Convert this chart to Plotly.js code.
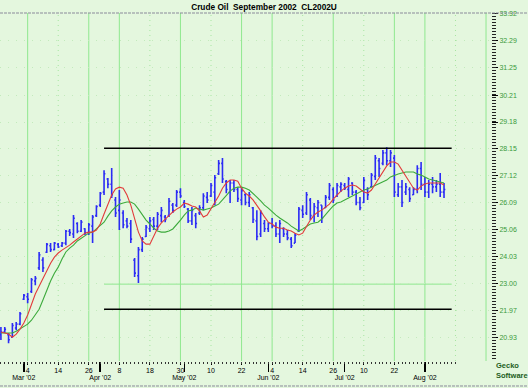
<!DOCTYPE html>
<html>
<head>
<meta charset="utf-8">
<script src="https://cdn.plot.ly/plotly-3.0.1.min.js"></script>
<style>html,body{margin:0;padding:0;background:#e4f7de;}#chart{width:528px;height:388px;}</style>
</head>
<body>
<div id="chart"></div>
<script>
// ---- Data ----
const dates = [
 '2002-02-21','2002-02-22','2002-02-25','2002-02-26','2002-02-27','2002-02-28',
 '2002-03-01','2002-03-04','2002-03-05','2002-03-06','2002-03-07','2002-03-08','2002-03-11','2002-03-12','2002-03-13','2002-03-14',
 '2002-03-15','2002-03-18','2002-03-19','2002-03-20','2002-03-21','2002-03-22','2002-03-25','2002-03-26','2002-03-27','2002-03-28',
 '2002-04-01','2002-04-02','2002-04-03','2002-04-04','2002-04-05','2002-04-08','2002-04-09','2002-04-10','2002-04-11','2002-04-12',
 '2002-04-15','2002-04-16','2002-04-17','2002-04-18','2002-04-19','2002-04-22','2002-04-23','2002-04-24','2002-04-25','2002-04-26',
 '2002-04-29','2002-04-30',
 '2002-05-01','2002-05-02','2002-05-03','2002-05-06','2002-05-07','2002-05-08','2002-05-09','2002-05-10','2002-05-13','2002-05-14',
 '2002-05-15','2002-05-16','2002-05-17','2002-05-20','2002-05-21','2002-05-22','2002-05-23','2002-05-24','2002-05-28','2002-05-29',
 '2002-05-30','2002-05-31',
 '2002-06-03','2002-06-04','2002-06-05','2002-06-06','2002-06-07','2002-06-10','2002-06-11','2002-06-12','2002-06-13','2002-06-14',
 '2002-06-17','2002-06-18','2002-06-19','2002-06-20','2002-06-21','2002-06-24','2002-06-25','2002-06-26','2002-06-27','2002-06-28',
 '2002-07-01','2002-07-02','2002-07-03','2002-07-08','2002-07-09','2002-07-10','2002-07-11','2002-07-12','2002-07-15','2002-07-16',
 '2002-07-17','2002-07-18','2002-07-19','2002-07-22','2002-07-23','2002-07-24','2002-07-25','2002-07-26','2002-07-29','2002-07-30',
 '2002-07-31',
 '2002-08-01','2002-08-02','2002-08-05','2002-08-06','2002-08-07','2002-08-08'
];
const openPrices = [
 21.05,21.15,21.05,20.95,21.30,21.45,22.40,22.50,22.70,23.10,
 23.60,23.90,24.20,24.45,24.30,24.50,24.45,24.55,25.00,24.90,
 25.30,25.00,25.10,24.95,25.20,25.60,26.00,26.50,27.00,26.80,
 26.20,25.80,25.70,25.40,25.30,23.90,23.30,24.30,24.80,25.10,
 25.45,25.20,25.60,25.55,25.60,26.00,26.00,26.50,26.10,25.85,
 25.40,25.60,25.70,25.90,26.30,26.35,26.50,27.20,27.60,26.90,
 26.50,26.85,26.60,26.20,26.40,26.10,25.90,25.40,24.90,25.30,
 25.10,25.30,25.20,24.90,25.10,24.90,24.70,24.55,25.00,25.80,
 25.70,26.20,25.60,25.90,26.00,25.90,26.30,26.60,26.35,26.70,
 26.75,26.60,26.85,26.50,26.10,26.10,26.60,26.70,27.10,27.70,
 27.60,28.00,27.70,27.80,26.40,26.70,26.50,26.60,26.40,26.60,
 27.40,26.80,26.50,26.80,26.70,26.80,26.50
];
const highPrices = [
 21.34,21.34,21.11,21.49,21.53,21.91,22.60,22.64,23.21,23.29,
 24.21,24.01,24.55,24.55,24.59,24.55,24.59,25.05,25.09,25.62,
 25.35,25.43,25.12,25.32,25.62,26.00,26.50,27.34,27.04,27.42,
 26.31,26.58,25.81,25.51,25.43,23.98,24.40,24.78,25.24,25.55,
 25.55,25.74,25.93,25.62,26.27,26.08,26.58,26.65,26.20,25.89,
 25.93,25.70,26.00,26.46,26.50,26.85,27.15,27.73,27.80,26.96,
 26.96,26.96,26.69,26.69,26.46,26.50,25.93,25.81,25.81,25.43,
 25.35,25.51,25.35,25.43,25.16,25.05,24.78,24.93,25.93,26.00,
 26.50,26.27,26.08,26.20,26.00,26.39,26.85,26.69,26.85,26.88,
 26.85,27.08,26.88,26.58,26.31,27.08,26.69,27.23,27.92,27.80,
 28.11,28.22,28.11,27.92,26.85,26.96,26.85,26.69,26.69,27.53,
 27.65,27.08,26.96,27.08,26.96,27.23,26.85
];
const lowPrices = [
 20.84,21.11,20.72,20.95,21.22,21.41,22.37,22.25,22.64,22.94,
 23.52,23.44,24.17,24.21,24.28,24.36,24.40,24.47,24.82,24.74,
 24.93,24.97,24.86,24.86,24.55,25.55,25.93,26.39,26.65,26.27,
 25.55,25.05,25.12,25.12,24.55,23.25,23.02,24.21,24.78,24.97,
 25.05,25.05,25.35,25.35,25.55,25.70,25.93,26.27,25.89,25.32,
 25.24,25.12,25.62,25.81,26.08,26.31,26.00,27.15,26.85,26.46,
 26.08,26.50,26.12,26.00,26.00,25.93,25.32,24.66,24.78,24.97,
 24.97,25.12,24.78,24.55,24.78,24.66,24.36,24.55,24.97,25.51,
 25.62,25.43,25.35,25.55,25.32,25.89,26.20,26.08,26.31,26.50,
 26.58,26.31,26.39,26.00,25.81,26.08,26.20,26.69,26.96,27.08,
 27.53,27.53,27.46,26.31,26.31,25.93,26.39,26.12,26.39,26.46,
 26.58,26.31,26.27,26.46,26.50,26.31,26.27
];
const closePrices = [
 21.15,21.25,20.85,21.40,21.45,21.85,22.55,22.40,23.15,23.20,
 24.10,23.60,24.50,24.30,24.55,24.40,24.55,25.00,24.95,25.50,
 25.00,25.35,24.95,25.25,25.55,25.95,26.45,27.20,26.80,26.40,
 25.70,26.20,25.25,25.20,24.70,23.40,24.30,24.70,25.15,25.40,
 25.20,25.65,25.80,25.45,26.15,25.80,26.50,26.35,25.95,25.40,
 25.80,25.30,25.90,26.35,26.20,26.75,27.05,27.60,27.00,26.60,
 26.85,26.60,26.25,26.55,26.10,26.40,25.45,24.80,25.70,25.10,
 25.30,25.20,24.90,25.30,24.90,24.75,24.45,24.85,25.85,25.65,
 26.40,25.60,25.95,26.10,25.50,26.30,26.75,26.20,26.75,26.80,
 26.65,27.00,26.50,26.10,25.90,26.95,26.40,27.15,27.80,27.40,
 28.00,27.70,28.00,26.50,26.70,26.10,26.70,26.25,26.60,27.40,
 26.80,26.50,26.80,26.70,26.80,26.50,26.60
];
// fast (red) and slow (green) moving-average lines
const fastAverage = [
 21.15,21.11,21.07,20.95,21.07,21.26,21.49,21.80,22.22,22.60,
 22.90,23.21,23.52,23.78,24.01,24.17,24.28,24.36,24.47,24.59,
 24.70,24.82,24.93,24.97,24.97,25.05,25.28,25.66,26.00,26.39,
 26.62,26.69,26.65,26.39,26.00,25.43,24.97,24.63,24.51,24.51,
 24.82,25.12,25.32,25.47,25.58,25.74,25.85,25.93,26.08,26.04,
 25.97,25.93,25.78,25.55,25.62,25.85,26.08,26.35,26.65,26.85,
 26.96,26.96,26.92,26.65,26.46,26.35,26.20,26.00,25.78,25.55,
 25.35,25.28,25.16,25.12,25.12,25.05,25.01,24.93,24.86,24.93,
 25.20,25.43,25.62,25.74,25.81,25.93,26.04,26.23,26.39,26.54,
 26.65,26.73,26.77,26.73,26.62,26.50,26.46,26.58,26.81,27.04,
 27.27,27.50,27.65,27.65,27.57,27.34,27.11,26.85,26.65,26.58,
 26.73,26.81,26.85,26.85,26.85,26.85,26.77
];
const slowAverage = [
 21.11,21.11,21.11,21.11,21.18,21.26,21.34,21.45,21.60,21.80,
 22.02,22.37,22.75,23.10,23.40,23.63,23.94,24.21,24.36,24.47,
 24.63,24.74,24.82,24.93,24.97,25.09,25.20,25.35,25.58,25.78,
 25.93,26.04,26.08,26.12,26.12,26.04,25.85,25.62,25.43,25.28,
 25.12,25.01,24.97,24.97,25.01,25.09,25.24,25.43,25.62,25.78,
 25.81,25.89,25.85,25.81,25.85,25.89,25.97,26.04,26.20,26.39,
 26.54,26.65,26.69,26.69,26.65,26.58,26.46,26.31,26.16,26.00,
 25.89,25.74,25.62,25.51,25.43,25.32,25.20,25.09,25.01,25.09,
 25.20,25.28,25.32,25.35,25.47,25.62,25.81,25.97,26.08,26.12,
 26.20,26.27,26.35,26.42,26.50,26.58,26.62,26.69,26.73,26.81,
 26.88,26.96,27.08,27.15,27.19,27.23,27.27,27.27,27.27,27.19,
 27.15,27.08,27.00,26.96,26.92,26.88,26.85
];
// tick labels
const dayTickDates = ['2002-03-04','2002-03-14','2002-03-26','2002-04-08','2002-04-18','2002-04-30','2002-05-10','2002-05-22','2002-06-04','2002-06-14','2002-06-26','2002-07-10','2002-07-22'];
const dayTickLabels = ['4','14','26','8','18','30','10','22','4','14','26','10','22'];
const extraDayTicks = ['2002-08-09','2002-08-12','2002-08-13'];
const monthTickDates = ['2002-03-01','2002-04-01','2002-05-01','2002-06-03','2002-07-01','2002-08-01'];
const monthTickLabels = ["Mar '02","Apr '02","May '02","Jun '02","Jul '02","Aug '02"];
const priceTicks = [20.93,21.97,23.00,24.03,25.06,26.09,27.12,28.15,29.18,30.21,31.25,32.29,33.32];
const priceMinorStep = 0.11475;
const holidays = ['2002-03-29','2002-05-27','2002-07-04','2002-07-05'];
// vertical cycle/grid lines
const gridDates = ['2002-03-04','2002-03-14','2002-03-26','2002-04-08','2002-04-18','2002-04-30','2002-05-10','2002-05-22','2002-06-04','2002-06-14','2002-06-26','2002-07-10','2002-07-22','2002-08-01','2002-08-13','2002-08-23'];
const gridStyles = ['solid','dot','solid','solid','dot','solid','dot','solid','solid','dot','solid','dot','solid','solid','dot','solid'];
// channel drawn on the chart
const channelDates = ['2002-04-02','2002-08-12'];
const channelTop = 28.18;
const channelBottom = 22.02;
const supportLevel = 22.98;

// ---- Styling / layout ----
const BG = '#e4f7de';
const FONT = 'Liberation Sans, Arial, sans-serif';
const xRange = ['2002-02-20 18:14', '2002-08-26 07:12'];
const yRange = [20.04, 33.35];
const breaks = [{bounds: ['sat', 'mon']}, {values: holidays}];

const traces = [
  {
    type: 'ohlc', x: dates, open: openPrices, high: highPrices, low: lowPrices, close: closePrices,
    increasing: {line: {color: '#2b2bf5', width: 1.6}},
    decreasing: {line: {color: '#2b2bf5', width: 1.6}},
    tickwidth: 0.35, hoverinfo: 'skip', showlegend: false
  },
  {type: 'scatter', mode: 'lines', x: dates, y: slowAverage, line: {color: '#3caa3c', width: 1.1}, hoverinfo: 'skip', showlegend: false},
  {type: 'scatter', mode: 'lines', x: dates, y: fastAverage, line: {color: '#e23b3b', width: 1.1}, hoverinfo: 'skip', showlegend: false},
  {type: 'scatter', mode: 'markers', x: [monthTickDates[0]], y: [null], xaxis: 'x2', hoverinfo: 'skip', showlegend: false},
  {type: 'scatter', mode: 'markers', x: [monthTickDates[0]], y: [null], xaxis: 'x3', hoverinfo: 'skip', showlegend: false},
  {type: 'scatter', mode: 'markers', x: [monthTickDates[0]], y: [null], yaxis: 'y2', hoverinfo: 'skip', showlegend: false}
];

const shapes = gridDates.map((d, i) => ({
  type: 'line', xref: 'x', yref: 'paper', x0: d, x1: d, y0: 0, y1: 1, layer: 'below',
  line: gridStyles[i] === 'solid' ? {color: '#8fe88f', width: 1} : {color: '#a6e6a0', width: 1, dash: '1px,4px'}
}));
shapes.push(
  {type: 'line', xref: 'x', yref: 'y', x0: channelDates[0], x1: channelDates[1], y0: supportLevel, y1: supportLevel, layer: 'below', line: {color: '#8fe88f', width: 1}},
  {type: 'line', xref: 'x', yref: 'y', x0: channelDates[0], x1: channelDates[1], y0: channelTop, y1: channelTop, line: {color: '#000', width: 1.5}},
  {type: 'line', xref: 'x', yref: 'y', x0: channelDates[0], x1: channelDates[1], y0: channelBottom, y1: channelBottom, line: {color: '#000', width: 1.5}},
  {type: 'line', xref: 'paper', yref: 'paper', x0: 0, x1: 1.08, y0: 1, y1: 1, line: {color: '#8a8a9a', width: 1, dash: '3px,1px'}},
  {type: 'line', xref: 'paper', yref: 'paper', x0: 0, x1: 1.08, y0: -0.0718, y1: -0.0718, line: {color: '#8a8a9a', width: 1, dash: '3px,1px'}}
);

const dateAxisBase = {
  type: 'date', range: xRange, autorange: false, rangebreaks: breaks,
  showgrid: false, showline: false, zeroline: false, fixedrange: true,
  tickfont: {family: FONT, size: 7, color: '#000'}
};

const layout = {
  width: 528, height: 388,
  margin: {l: 0, r: 37, t: 13, b: 27, pad: 0},
  paper_bgcolor: BG, plot_bgcolor: BG,
  font: {family: FONT, size: 7, color: '#000'},
  showlegend: false,
  title: {text: 'Crude Oil\u00a0 September 2002\u00a0 CL2002U', font: {family: FONT, size: 8.3, color: '#000', weight: 'bold'},
          x: 0.5, xref: 'container', xanchor: 'center', y: 0.983, yref: 'container', yanchor: 'middle'},
  xaxis: Object.assign({}, dateAxisBase, {
    rangeslider: {visible: false},
    tickmode: 'array', tickvals: dayTickDates, ticktext: dayTickLabels,
    ticks: 'outside', ticklen: 3, tickwidth: 1, tickcolor: '#000'
  }),
  xaxis2: Object.assign({}, dateAxisBase, {
    overlaying: 'x', anchor: 'y', side: 'bottom',
    tickmode: 'array', tickvals: monthTickDates, ticktext: monthTickLabels,
    ticks: 'outside', ticklen: 10, tickwidth: 1.5, tickcolor: '#000'
  }),
  xaxis3: Object.assign({}, dateAxisBase, {
    overlaying: 'x', anchor: 'y', side: 'bottom',
    tickmode: 'array', tickvals: dates.concat(extraDayTicks), showticklabels: false,
    ticks: 'outside', ticklen: 1.5, tickwidth: 1, tickcolor: '#333'
  }),
  yaxis: {
    side: 'right', range: yRange, autorange: false,
    tickmode: 'array', tickvals: priceTicks, tickformat: '.2f',
    ticks: 'outside', ticklen: 6, tickwidth: 1, tickcolor: '#000',
    showgrid: true, gridcolor: '#c3eabc', griddash: '1px,7px', gridwidth: 1,
    showline: false, zeroline: false,
    tickfont: {family: FONT, size: 7, color: '#3a9a3a'}, fixedrange: true
  },
  yaxis2: {
    overlaying: 'y', side: 'right', anchor: 'x', range: yRange, autorange: false,
    tickmode: 'linear', tick0: priceTicks[0], dtick: priceMinorStep,
    ticks: 'outside', ticklen: 4, tickwidth: 1, tickcolor: '#222',
    showticklabels: false, showgrid: false, showline: false, zeroline: false, fixedrange: true
  },
  shapes: shapes,
  annotations: [{
    xref: 'paper', yref: 'paper', x: 1.006, y: -0.026, xanchor: 'left', yanchor: 'middle', align: 'left',
    text: '<b>Gecko<br>Software</b>', showarrow: false,
    font: {family: FONT, size: 7.5, color: '#1d5e1d'}
  }]
};

Plotly.newPlot('chart', traces, layout, {staticPlot: true, displayModeBar: false});
</script>
</body>
</html>
